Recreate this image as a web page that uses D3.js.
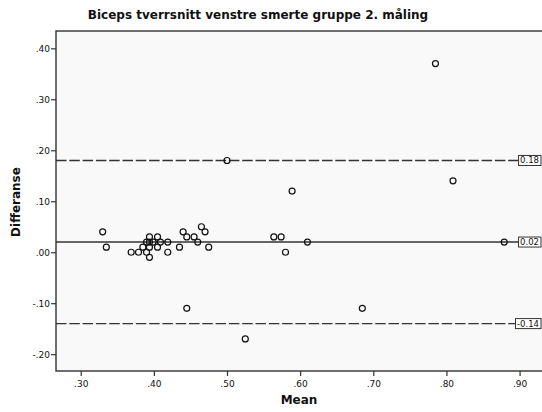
<!DOCTYPE html>
<html>
<head>
<meta charset="utf-8">
<script src="https://cdn.jsdelivr.net/npm/d3@7"></script>
<style>
  html, body { margin: 0; padding: 0; background: #fff; }
  svg { display: block; }
</style>
</head>
<body>
<svg id="chart" width="542" height="412"></svg>
<script>
// Bland-Altman plot: mean of the two measurements vs. their difference
const meanValues = [
  0.785, 0.809, 0.879, 0.589, 0.564, 0.574, 0.580, 0.610, 0.500, 0.685,
  0.445, 0.525,
  0.330, 0.335, 0.369, 0.379, 0.390, 0.385, 0.390, 0.394, 0.394, 0.394,
  0.394, 0.399, 0.405, 0.405, 0.409, 0.419, 0.419, 0.435, 0.440, 0.445,
  0.455, 0.460, 0.465, 0.470, 0.475
];
const diffValues = [
  0.37, 0.14, 0.02, 0.12, 0.03, 0.03, 0.00, 0.02, 0.18, -0.11,
  -0.11, -0.17,
  0.04, 0.01, 0.00, 0.00, 0.00, 0.01, 0.02, 0.03, 0.02, 0.01,
  -0.01, 0.02, 0.03, 0.01, 0.02, 0.02, 0.00, 0.01, 0.04, 0.03,
  0.03, 0.02, 0.05, 0.04, 0.01
];
// Reference lines: upper limit, mean difference, lower limit
const refValues = [0.18, 0.02, -0.14];
const refLabels = ["0.18", "0.02", "-0.14"];
const refDashed = [true, false, true];

const xTicks = [0.3, 0.4, 0.5, 0.6, 0.7, 0.8, 0.9];
const yTicks = [0.4, 0.3, 0.2, 0.1, 0.0, -0.1, -0.2];

const titleText = "Biceps tverrsnitt venstre smerte gruppe 2. måling";
const xTitle = "Mean";
const yTitle = "Differanse";

const svg = d3.select("#chart");
const plot = { left: 56, right: 550, top: 31, bottom: 371 };

const x = d3.scaleLinear().domain([0.2662, 0.9416]).range([plot.left, plot.right]);
const y = d3.scaleLinear().domain([-0.233, 0.434]).range([plot.bottom, plot.top]);

const fmt = v => {
  const s = d3.format(".2f")(Math.abs(v)).replace(/^0/, "");
  return (v < 0 ? "-" : "") + s;
};

const font = "'DejaVu Sans', 'Liberation Sans', sans-serif";

// plot background
svg.append("rect")
  .attr("x", plot.left).attr("y", plot.top)
  .attr("width", plot.right - plot.left).attr("height", plot.bottom - plot.top)
  .attr("fill", "#f9f9f9");

// axes
const xAxis = svg.append("g")
  .attr("transform", `translate(0,${plot.bottom})`)
  .call(d3.axisBottom(x).tickValues(xTicks).tickFormat(fmt).tickSizeOuter(0).tickSize(5));
const yAxis = svg.append("g")
  .attr("transform", `translate(${plot.left},0)`)
  .call(d3.axisLeft(y).tickValues(yTicks).tickFormat(fmt).tickSizeOuter(0).tickSize(5));

[xAxis, yAxis].forEach(g => {
  g.select(".domain").remove();
  g.selectAll(".tick line").attr("stroke", "#333").attr("stroke-width", 1.2);
  g.selectAll(".tick text")
    .attr("fill", "#111")
    .style("font-family", font)
    .style("font-size", "9px");
});
xAxis.selectAll(".tick text").attr("dy", "0.9em");
yAxis.selectAll(".tick text").attr("x", -6);

// reference lines with value boxes at the right end
const refG = svg.append("g");
refValues.forEach((v, i) => {
  const yy = y(v);
  const label = refG.append("text")
    .attr("x", 539).attr("y", yy)
    .attr("text-anchor", "end")
    .attr("dominant-baseline", "central")
    .style("font-family", font)
    .style("font-size", "8.5px")
    .attr("fill", "#111")
    .text(refLabels[i]);
  const bb = label.node().getBBox();
  refG.insert("rect", "text")
    .attr("x", bb.x - 1.5).attr("y", yy - 5)
    .attr("width", bb.width + 3.5).attr("height", 10)
    .attr("fill", "#fff").attr("stroke", "#333").attr("stroke-width", 1);
  refG.insert("line", "rect")
    .attr("x1", plot.left).attr("x2", bb.x - 1.5)
    .attr("y1", yy).attr("y2", yy)
    .attr("stroke", "#333")
    .attr("stroke-width", 1.4)
    .attr("stroke-dasharray", refDashed[i] ? "10.5,2.8" : null);
});

// points
svg.append("g")
  .selectAll("circle")
  .data(meanValues.map((m, i) => ({ m, d: diffValues[i] })))
  .join("circle")
  .attr("cx", p => x(p.m))
  .attr("cy", p => y(p.d))
  .attr("r", 3)
  .attr("fill", "none")
  .attr("stroke", "#111")
  .attr("stroke-width", 1.2);

// frame
svg.append("rect")
  .attr("x", plot.left).attr("y", plot.top)
  .attr("width", plot.right - plot.left).attr("height", plot.bottom - plot.top)
  .attr("fill", "none").attr("stroke", "#333").attr("stroke-width", 1.4);

// titles
svg.append("text")
  .attr("x", 258).attr("y", 19)
  .attr("text-anchor", "middle")
  .style("font-family", font).style("font-weight", "bold").style("font-size", "12px")
  .attr("fill", "#111")
  .text(titleText);

svg.append("text")
  .attr("x", 299).attr("y", 404)
  .attr("text-anchor", "middle")
  .style("font-family", font).style("font-weight", "bold").style("font-size", "12px")
  .attr("fill", "#111")
  .text(xTitle);

svg.append("text")
  .attr("transform", "translate(20,202) rotate(-90)")
  .attr("text-anchor", "middle")
  .style("font-family", font).style("font-weight", "bold").style("font-size", "12px")
  .attr("fill", "#111")
  .text(yTitle);
</script>
</body>
</html>
